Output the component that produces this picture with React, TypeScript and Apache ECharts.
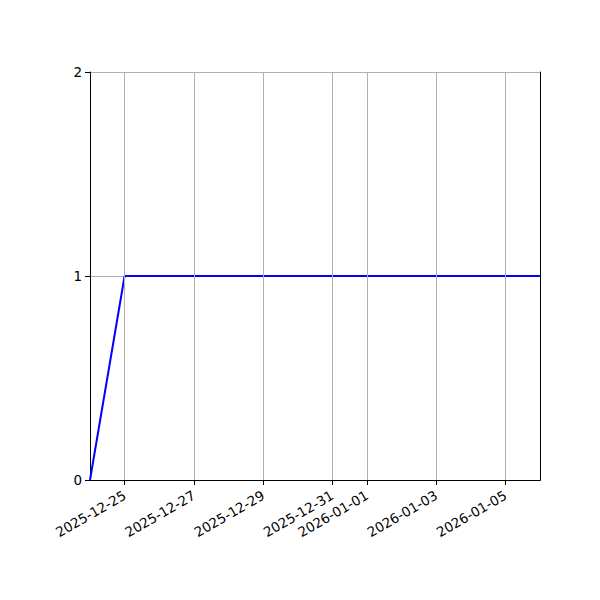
import React, { useEffect, useRef } from 'react';
import * as echarts from 'echarts';

const dates = [
  '2025-12-24', '2025-12-25', '2025-12-26', '2025-12-27', '2025-12-28',
  '2025-12-29', '2025-12-30', '2025-12-31', '2026-01-01', '2026-01-02',
  '2026-01-03', '2026-01-04', '2026-01-05', '2026-01-06',
];
const values = [0, 1, 1, 1, 1, 1, 1, 1, 1, 1, 1, 1, 1, 1];
const tickDates = [
  '2025-12-25', '2025-12-27', '2025-12-29', '2025-12-31',
  '2026-01-01', '2026-01-03', '2026-01-05',
];
const yTicks = [0, 1, 2];

const toMs = (s: string) => Date.parse(s + 'T00:00:00Z');
const fmt = (v: number) => new Date(v).toISOString().slice(0, 10);

const App: React.FC = () => {
  const chartRef = useRef<HTMLDivElement>(null);

  useEffect(() => {
    if (!chartRef.current) return;
    const chart = echarts.init(chartRef.current, null, { renderer: 'svg' });
    const tickMs = tickDates.map(toMs);
    const font = { fontFamily: 'DejaVu Sans', fontSize: 13.5, color: '#000' };

    chart.setOption({
      animation: false,
      textStyle: { fontFamily: 'DejaVu Sans' },
      grid: { left: 90, right: 60, top: 72, bottom: 120 },
      xAxis: [
        {
          type: 'value',
          min: toMs(dates[0]),
          max: toMs(dates[dates.length - 1]),
          interval: 86400000,
          axisLine: { lineStyle: { color: '#000', width: 1 } },
          axisTick: { customValues: tickMs, length: 5, lineStyle: { color: '#000' } },
          axisLabel: {
            customValues: tickMs,
            formatter: (v: number) => fmt(v),
            rotate: 30,
            margin: 14,
            ...font,
          },
          splitLine: { show: false },
        },
        {
          type: 'value',
          position: 'top',
          min: toMs(dates[0]),
          max: toMs(dates[dates.length - 1]),
          axisLine: { lineStyle: { color: '#000', width: 1 } },
          axisTick: { show: false },
          axisLabel: { show: false },
          splitLine: { show: false },
        },
      ],
      yAxis: [
        {
          type: 'value',
          min: yTicks[0],
          max: yTicks[yTicks.length - 1],
          interval: 1,
          axisLine: { show: true, lineStyle: { color: '#000', width: 1 } },
          axisTick: { show: true, length: 5, lineStyle: { color: '#000' } },
          axisLabel: { margin: 8, ...font },
          splitLine: { show: true, lineStyle: { color: '#b0b0b0', width: 1 } },
        },
        {
          type: 'value',
          position: 'right',
          min: yTicks[0],
          max: yTicks[yTicks.length - 1],
          axisLine: { show: true, lineStyle: { color: '#000', width: 1 } },
          axisTick: { show: false },
          axisLabel: { show: false },
          splitLine: { show: false },
        },
      ],
      series: [
        {
          type: 'line',
          data: dates.map((d, i) => [toMs(d), values[i]]),
          showSymbol: false,
          lineStyle: { color: '#0000ff', width: 2 },
          itemStyle: { color: '#0000ff' },
          markLine: {
            silent: true,
            symbol: 'none',
            label: { show: false },
            lineStyle: { color: '#b0b0b0', width: 1, type: 'solid' },
            data: tickMs.map((v) => ({ xAxis: v })),
          },
        },
      ],
    });

    return () => chart.dispose();
  }, []);

  return <div ref={chartRef} style={{ width: 600, height: 600, margin: -8 }}></div>;
};

export default App;
